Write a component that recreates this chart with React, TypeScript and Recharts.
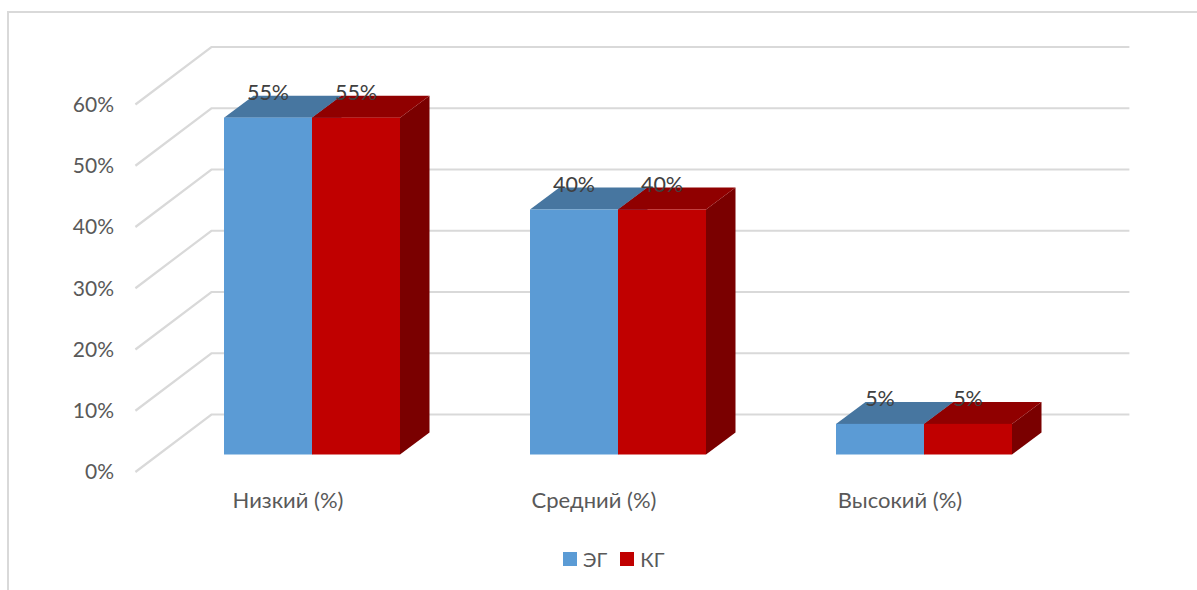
import { BarChart, Bar, XAxis, YAxis, CartesianGrid, Legend, LabelList } from 'recharts'

const categories = ['Низкий (%)', 'Средний (%)', 'Высокий (%)']
const egValues = [55, 40, 5]
const kgValues = [55, 40, 5]
const yTicks = [0, 10, 20, 30, 40, 50, 60]

const data = categories.map((name, i) => ({ name, eg: egValues[i], kg: kgValues[i] }))

const FONT = 'Lato, "Open Sans", sans-serif'
const GRID = '#d9d9d9'
const TEXT = '#595959'
const pct = (v: any) => `${v}%`

// 3d look: depth of a bar, and how far the walls sit from the plane of the bars
const DEPTH_X = 29.5
const DEPTH_Y = 22
const BACK_X = 52.4
const BACK_Y = 40
const FRONT_X = 23.6
const FRONT_Y = 17.5

function Box3d({ x, y, width, height, fill, topFill, sideFill }: any) {
  return (
    <g>
      <polygon
        points={`${x + width},${y} ${x + width + DEPTH_X},${y - DEPTH_Y} ${x + width + DEPTH_X},${y + height - DEPTH_Y} ${x + width},${y + height}`}
        fill={sideFill}
      />
      <polygon
        points={`${x},${y} ${x + DEPTH_X},${y - DEPTH_Y} ${x + width + DEPTH_X},${y - DEPTH_Y} ${x + width},${y}`}
        fill={topFill}
      />
      <rect x={x} y={y} width={width} height={height} fill={fill} />
    </g>
  )
}

function WallLine({ x1, x2, y1 }: any) {
  return (
    <polyline
      points={`${x1 - FRONT_X},${y1 + FRONT_Y} ${x1 + BACK_X},${y1 - BACK_Y} ${x2 + BACK_X},${y1 - BACK_Y}`}
      fill="none"
      stroke={GRID}
      strokeWidth={2.2}
    />
  )
}

function YTick({ x, y, payload }: any) {
  return (
    <text x={x - 37} y={y + 17.5} dy="0.35em" textAnchor="end" fontFamily={FONT} fontSize={21} fill={TEXT}>
      {pct(payload.value)}
    </text>
  )
}

function XTick({ x, y, payload }: any) {
  return (
    <text x={x - 24} y={454.5 + 46} dy="0.35em" textAnchor="middle" fontFamily={FONT} fontSize={22} fill={TEXT}>
      {payload.value}
    </text>
  )
}

function LegendRow({ payload }: any) {
  return (
    <div style={{ display: 'flex', alignItems: 'center', fontFamily: FONT, fontSize: 20, color: TEXT, lineHeight: '24px' }}>
      {(payload || []).map((p: any) => (
        <div key={p.value} style={{ display: 'flex', alignItems: 'center', marginRight: 13 }}>
          <span style={{ width: 14, height: 14, background: p.color, marginRight: 6 }} />
          <span>{p.value}</span>
        </div>
      ))}
    </div>
  )
}

export default function App() {
  return (
    <div style={{ position: 'absolute', left: 0, top: 0, width: 1197, height: 590, overflow: 'hidden', background: '#fff' }}>
      <div style={{ position: 'absolute', left: 7, top: 11, right: 0, bottom: 0, borderLeft: `2px solid ${GRID}`, borderTop: `2px solid ${GRID}` }} />
      <div style={{ position: 'absolute', left: 0, top: 0 }}>
        <BarChart
          width={1197}
          height={590}
          data={data}
          barSize={88}
          barGap={0}
          margin={{ top: 87, right: 120, bottom: 105.5, left: 99 }}
        >
          <CartesianGrid vertical={false} horizontal={(props: any) => <WallLine key={props.key} {...props} />} />
          <XAxis dataKey="name" axisLine={false} tickLine={false} height={30} tick={<XTick />} />
          <YAxis width={60} domain={[0, 60]} ticks={yTicks} axisLine={false} tickLine={false} interval={0} tick={<YTick />} />
          <Legend
            verticalAlign="middle"
            align="center"
            itemSorter={null}
            content={<LegendRow />}
            wrapperStyle={{ position: 'absolute', left: 563, top: 547, width: 200, height: 24 }}
          />
          <Bar dataKey="eg" name="ЭГ" fill="#5b9bd5" isAnimationActive={false} shape={<Box3d topFill="#4776a0" sideFill="#3d6a94" />}>
            <LabelList dataKey="eg" position="top" offset={18} formatter={pct} fontFamily={FONT} fontSize={21.5} fill="#404040" />
          </Bar>
          <Bar dataKey="kg" name="КГ" fill="#c00000" isAnimationActive={false} shape={<Box3d topFill="#900000" sideFill="#7a0000" />}>
            <LabelList dataKey="kg" position="top" offset={18} formatter={pct} fontFamily={FONT} fontSize={21.5} fill="#404040" />
          </Bar>
        </BarChart>
      </div>
    </div>
  )
}
